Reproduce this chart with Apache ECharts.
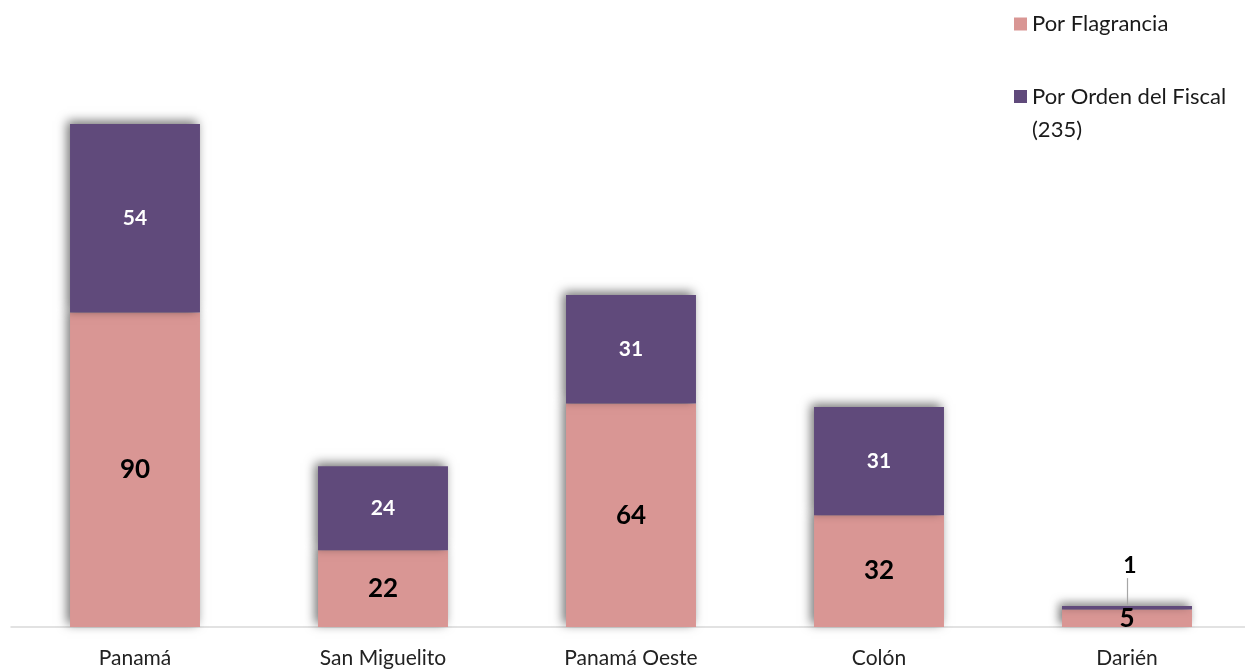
<!DOCTYPE html>
<html>
<head>
<meta charset="utf-8">
<script src="https://cdn.jsdelivr.net/npm/echarts@6/dist/echarts.min.js"></script>
<style>
  html, body { margin: 0; padding: 0; background: #fff; }
  #chart { width: 1245px; height: 669px; }
</style>
</head>
<body>
<div id="chart"></div>
<script>
const regions = ['Panamá', 'San Miguelito', 'Panamá Oeste', 'Colón', 'Darién']
const flagrancia = [90, 22, 64, 32, 5]
const ordenFiscal = [54, 24, 31, 31, 1]

const pink = '#d99694'
const purple = '#604a7b'
const font = 'Lato, "Open Sans", sans-serif'

const barShadow = {
  shadowBlur: 10,
  shadowColor: 'rgba(0,0,0,0.55)',
  shadowOffsetX: -3,
  shadowOffsetY: -3
}

const chart = echarts.init(document.getElementById('chart'))

chart.setOption({
  animation: false,
  textStyle: { fontFamily: font },
  legend: [
    {
      data: ['Por Flagrancia'],
      left: 1009,
      top: 6,
      itemWidth: 13,
      itemHeight: 13,
      itemGap: 8,
      icon: 'rect',
      textStyle: { fontSize: 22, lineHeight: 26, color: '#1a1a1a', fontFamily: font }
    },
    {
      data: ['Por Orden del Fiscal'],
      // blank first line keeps the icon level with the first text line
      formatter: () => '\nPor Orden del Fiscal\n(235)',
      left: 1009,
      top: 42,
      itemWidth: 13,
      itemHeight: 13,
      itemGap: 8,
      icon: 'rect',
      textStyle: { fontSize: 22, lineHeight: 33, color: '#1a1a1a', fontFamily: font }
    }
  ],
  grid: {
    left: 11,
    width: 1240, // last category runs slightly past the right edge
    top: 68,
    bottom: 42,
    outerBoundsMode: 'none'
  },
  xAxis: {
    type: 'category',
    data: regions,
    axisLine: { lineStyle: { color: '#d9d9d9', width: 1.5 } },
    axisTick: { show: false },
    axisLabel: { fontSize: 21, color: '#222', margin: 21, fontFamily: font }
  },
  yAxis: {
    type: 'value',
    min: 0,
    max: 160,
    show: false,
    splitLine: { show: false }
  },
  series: [
    {
      name: 'Por Flagrancia',
      type: 'bar',
      stack: 'total',
      barWidth: '52.4%',
      data: flagrancia,
      itemStyle: Object.assign({ color: pink }, barShadow),
      label: {
        show: true,
        position: 'inside',
        fontSize: 26,
        fontWeight: 'bold',
        color: '#000',
        fontFamily: font
      }
    },
    {
      name: 'Por Orden del Fiscal',
      type: 'bar',
      stack: 'total',
      barWidth: '52.4%',
      data: ordenFiscal.map((v, i) => i === 4
        ? { value: v, label: { position: 'top', offset: [3, -24], color: '#000', fontSize: 23 } }
        : v),
      itemStyle: Object.assign({ color: purple }, barShadow),
      label: {
        show: true,
        position: 'inside',
        fontSize: 21,
        fontWeight: 'bold',
        color: '#fff',
        fontFamily: font
      },
      markLine: {
        silent: true,
        symbol: 'none',
        label: { show: false },
        lineStyle: { color: '#a6a6a6', width: 1.2, type: 'solid' },
        data: [[{ coord: ['Darién', 6] }, { coord: ['Darién', 14] }]]
      }
    }
  ]
})
</script>
</body>
</html>
